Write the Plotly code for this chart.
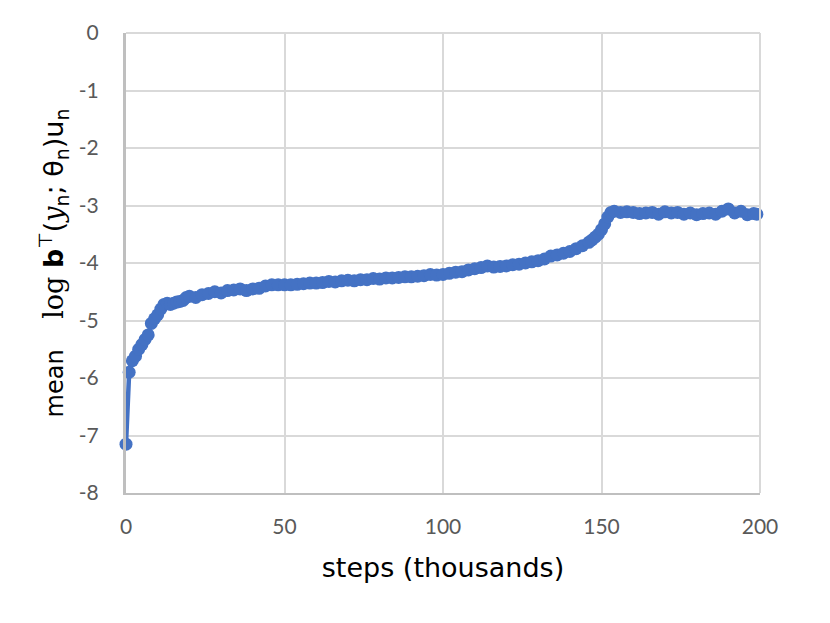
import plotly.graph_objects as go

steps = [0, 1, 2, 3, 4, 5, 6, 7, 8, 9, 10, 11, 12, 13, 14, 15, 16, 17, 18, 19, 20,
         22, 24, 26, 28, 30, 32, 34, 36, 38, 40, 42, 44, 46, 48, 50, 52, 54, 56, 58,
         60, 62, 64, 66, 68, 70, 72, 74, 76, 78, 80, 82, 84, 86, 88, 90, 92, 94, 96, 98,
         100, 102, 104, 106, 108, 110, 112, 114, 116, 118, 120, 122, 124, 126, 128,
         130, 132, 134, 136, 138, 140, 142, 144, 146, 147, 148, 149, 150, 151, 152, 153,
         154, 156, 158, 160, 162, 164, 166, 168, 170, 172, 174, 176, 178, 180, 182, 184,
         186, 188, 190, 192, 194, 196, 198, 199]
values = [-7.15, -5.9, -5.7, -5.62, -5.5, -5.42, -5.33, -5.25, -5.05, -4.97, -4.9, -4.8,
          -4.72, -4.7, -4.72, -4.7, -4.68, -4.67, -4.65, -4.6, -4.58,
          -4.6, -4.55, -4.53, -4.5, -4.52, -4.48, -4.47, -4.45, -4.48, -4.45, -4.44, -4.4,
          -4.38, -4.38, -4.38, -4.38, -4.37, -4.36, -4.35, -4.35, -4.34, -4.32, -4.33,
          -4.31, -4.3, -4.31, -4.29, -4.29, -4.27, -4.28, -4.26, -4.26, -4.25, -4.24,
          -4.24, -4.23, -4.22, -4.2, -4.21, -4.2, -4.18, -4.16, -4.15, -4.12, -4.1, -4.08,
          -4.05, -4.07, -4.06, -4.05, -4.03, -4.02, -4.0, -3.98, -3.96, -3.93, -3.88,
          -3.86, -3.83, -3.8, -3.75, -3.7, -3.64, -3.6, -3.55, -3.5, -3.42, -3.32, -3.2,
          -3.12, -3.1, -3.12, -3.11, -3.12, -3.14, -3.13, -3.12, -3.15, -3.11, -3.13,
          -3.12, -3.15, -3.13, -3.16, -3.14, -3.13, -3.15, -3.1, -3.06, -3.13, -3.1,
          -3.16, -3.14, -3.15]

x_ticks = [0, 50, 100, 150, 200]
y_ticks = [0, -1, -2, -3, -4, -5, -6, -7, -8]
y_labels = ["0", "-1", "-2", "-3", "-4", "-5", "-6", "-7", "-8"]

fig = go.Figure()
fig.add_trace(go.Scatter(
    x=steps, y=values, mode="lines+markers",
    line=dict(color="#4472c4", width=4.5),
    marker=dict(color="#4472c4", size=13),
    cliponaxis=False, showlegend=False,
))

ytitle = ('mean    <span style="font-size:27px"><span style="font-family:DejaVu Serif">log</span> '
          '<b>b</b><sup>⊤</sup>(<i><span style="font-family:DejaVu Serif">y</span></i>'
          '<sub>n</sub>; θ<sub>n</sub>)u<sub>n</sub></span>')

fig.update_layout(
    width=830, height=623,
    margin=dict(l=118, r=78, t=25, b=138),
    paper_bgcolor="white", plot_bgcolor="white",
    font=dict(family="DejaVu Sans", color="black"),
    xaxis=dict(
        range=[0, 200], tickvals=x_ticks, ticktext=[str(v) for v in x_ticks],
        showgrid=True, gridcolor="#d9d9d9", gridwidth=2,
        zeroline=False, showline=True, linecolor="#bfbfbf", linewidth=2,
        tickfont=dict(family="Lato", size=21, color="#595959"),
        ticks="", ticklabelstandoff=14,
        title=dict(text="steps (thousands)", font=dict(size=27, family="DejaVu Sans"), standoff=21),
    ),
    yaxis=dict(
        range=[-8, 0], tickvals=y_ticks, ticktext=y_labels,
        showgrid=True, gridcolor="#d9d9d9", gridwidth=2,
        zeroline=False, showline=True, linecolor="#bfbfbf", linewidth=3,
        tickfont=dict(family="Lato", size=21, color="#595959"),
        ticks="", ticklabelstandoff=20,
        title=dict(text=ytitle, font=dict(size=24, family="DejaVu Sans"), standoff=9),
    ),
)
fig.add_shape(type="line", xref="paper", yref="paper", x0=0, x1=1, y0=1, y1=1,
              line=dict(color="#d9d9d9", width=2))
fig.add_shape(type="line", xref="paper", yref="paper", x0=1, x1=1, y0=0, y1=1,
              line=dict(color="#d9d9d9", width=2))

fig.write_html("out.html")
